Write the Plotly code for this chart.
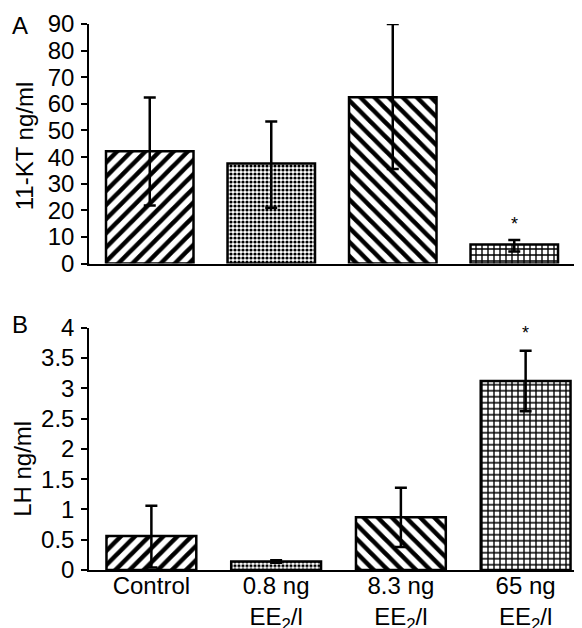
import plotly.graph_objects as go
from plotly.subplots import make_subplots

# ---- data ----
categories = ["Control", "0.8 ng<br>EE<sub>2</sub>/l", "8.3 ng<br>EE<sub>2</sub>/l", "65 ng<br>EE<sub>2</sub>/l"]
kt_values = [42.2, 37.6, 62.5, 7.2]
kt_err_plus = [20.2, 15.8, 27.5, 1.7]
kt_err_minus = [20.4, 16.6, 27.0, 2.7]
lh_values = [0.56, 0.14, 0.87, 3.12]
lh_err_plus = [0.50, 0.02, 0.49, 0.50]
lh_err_minus = [0.52, 0.02, 0.49, 0.50]
patterns = ["/", ".", "\\", "+"]
kt_ticks = [0, 10, 20, 30, 40, 50, 60, 70, 80, 90]
lh_ticks = [0, 0.5, 1, 1.5, 2, 2.5, 3, 3.5, 4]
star_kt = 15
star_lh = 3.92

FONT = "Liberation Sans, Arial, sans-serif"
FS = 24

fig = make_subplots(rows=2, cols=1)

def bar(y, ep, em):
    return go.Bar(
        x=categories, y=y,
        marker=dict(color="white",
                    line=dict(color="black", width=2.5),
                    pattern=dict(shape=patterns, fgcolor="black", bgcolor="white", fgopacity=1,
                                 size=[10, 4, 10, 6], solidity=[0.45, 0.5, 0.45, 0.4])),
        error_y=dict(type="data", array=ep, arrayminus=em, symmetric=False,
                     color="black", thickness=2.5, width=6),
        showlegend=False)

fig.add_trace(bar(kt_values, kt_err_plus, kt_err_minus), row=1, col=1)
fig.add_trace(bar(lh_values, lh_err_plus, lh_err_minus), row=2, col=1)

axis_common = dict(showline=True, linecolor="black", linewidth=1.5,
                   tickfont=dict(family=FONT, size=FS, color="black"),
                   showgrid=False, zeroline=False)

fig.update_layout(
    width=582, height=628,
    margin=dict(l=81, r=2, t=10, b=62),
    plot_bgcolor="white", paper_bgcolor="white",
    bargap=0.28,
    font=dict(family=FONT, size=FS, color="black"),
    xaxis=dict(domain=[0, 0.974], range=[-0.5, 3.5], showticklabels=False, ticks="", **axis_common),
    yaxis=dict(domain=[0.5612, 1.0], range=[0, 90], tickvals=kt_ticks, ticks="outside",
               ticklen=6, tickwidth=1.5, tickcolor="black", ticklabelstandoff=2, **axis_common),
    xaxis2=dict(domain=[0, 1.0], range=[-0.5, 3.5], ticks="", anchor="y2",
                ticklabelstandoff=-7, **axis_common),
    yaxis2=dict(domain=[0, 0.4437], range=[0, 4], tickvals=lh_ticks, ticks="outside",
                ticklen=6, tickwidth=1.5, tickcolor="black", anchor="x2", ticklabelstandoff=2,
                **axis_common),
)

# small end ticks on the category axes
for xr, yr in (("x domain", "y"), ("x2 domain", "y2")):
    for xpos in (0, 1):
        fig.add_shape(type="line", xref=xr, yref=yr, x0=xpos, x1=xpos,
                      ysizemode="pixel", yanchor=0, y0=0, y1=-6,
                      line=dict(color="black", width=1.5))

ann = [
    dict(text="11-KT ng/ml", x=-64.5 / 499, y=(566 - 134) / 556, textangle=-90),
    dict(text="LH ng/ml", x=-66 / 499, y=(566 - 463) / 556, textangle=-90),
    dict(text="A", x=-69 / 499, y=(566 - 12) / 556),
    dict(text="B", x=-69 / 499, y=(566 - 316) / 556),
]
for a in ann:
    fig.add_annotation(xref="paper", yref="paper", showarrow=False,
                       xanchor="center", yanchor="middle",
                       font=dict(family=FONT, size=FS, color="black"), **a)

fig.add_annotation(x=categories[3], y=star_kt, xref="x", yref="y", text="*", showarrow=False,
                   font=dict(family=FONT, size=18, color="black"))
fig.add_annotation(x=categories[3], y=star_lh, xref="x2", yref="y2", text="*", showarrow=False,
                   font=dict(family=FONT, size=18, color="black"))

fig.write_html("out.html")
